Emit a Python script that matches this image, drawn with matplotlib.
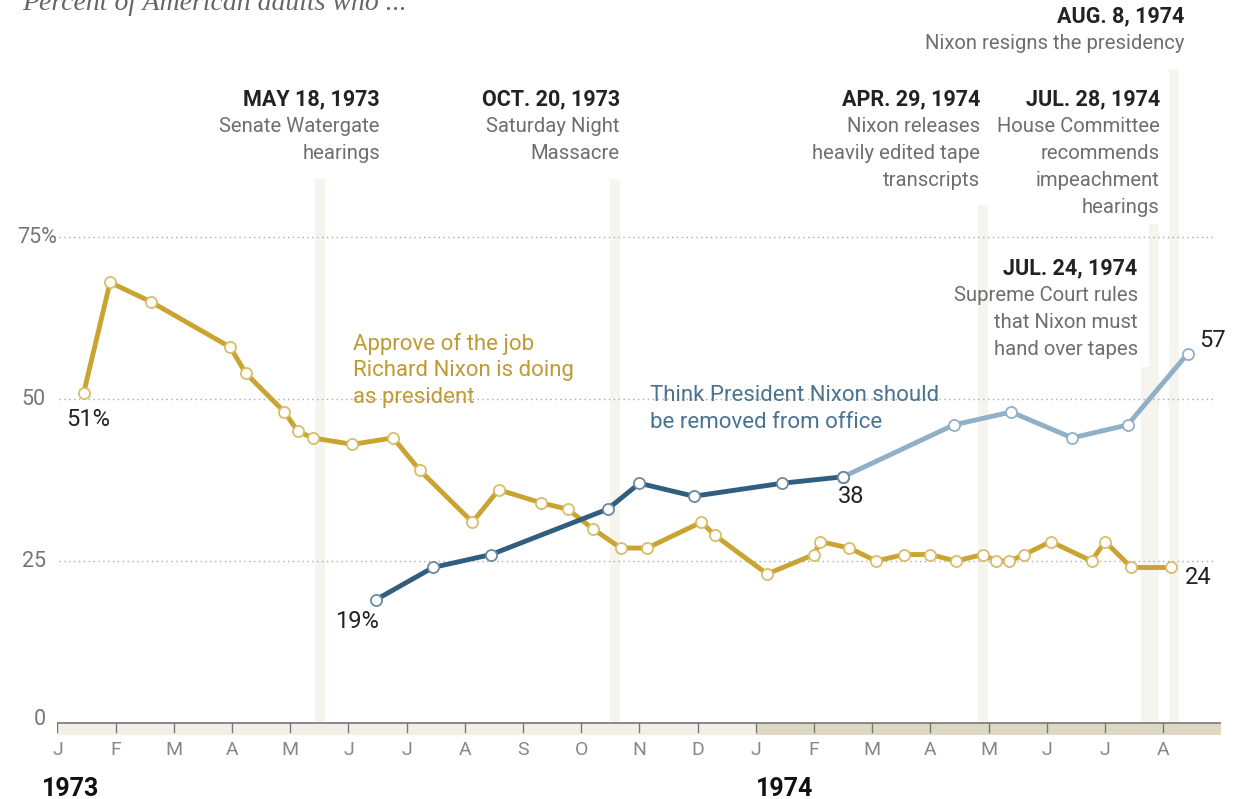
import calendar
import matplotlib
matplotlib.use("Agg")
import matplotlib.pyplot as plt

# approval of Nixon's job (Gallup), percent
approve_dates = ["1973-01-15", "1973-01-29", "1973-02-18", "1973-03-31", "1973-04-08",
                 "1973-04-28", "1973-05-05", "1973-05-13", "1973-06-03", "1973-06-24",
                 "1973-07-08", "1973-08-05", "1973-08-19", "1973-09-10", "1973-09-24",
                 "1973-10-07", "1973-10-22", "1973-11-05", "1973-12-03", "1973-12-10",
                 "1974-01-07", "1974-02-01", "1974-02-04", "1974-02-18", "1974-03-03",
                 "1974-03-18", "1974-04-01", "1974-04-14", "1974-04-28", "1974-05-05",
                 "1974-05-12", "1974-05-20", "1974-06-03", "1974-06-24", "1974-07-01",
                 "1974-07-15", "1974-08-05"]
approve_vals = [51, 68, 65, 58, 54, 48, 45, 44, 43, 44, 39, 31, 36, 34, 33, 30, 27, 27,
                31, 29, 23, 26, 28, 27, 25, 26, 26, 25, 26, 25, 25, 26, 28, 25, 28, 24, 24]

# think Nixon should be removed from office, percent
remove_dates = ["1973-06-15", "1973-07-15", "1973-08-15", "1973-10-15", "1973-11-01",
                "1973-11-29", "1974-01-15", "1974-02-15", "1974-04-13", "1974-05-13",
                "1974-06-14", "1974-07-13", "1974-08-14"]
remove_vals = [19, 24, 26, 33, 37, 35, 37, 38, 46, 48, 44, 46, 57]
remove_split = 7  # dark line up to this point, light after

month_labels = ["J", "F", "M", "A", "M", "J", "J", "A", "S", "O", "N", "D",
                "J", "F", "M", "A", "M", "J", "J", "A"]

events = [
    ("1973-05-18", "MAY 18, 1973", ["Senate Watergate", "hearings"], 84),
    ("1973-10-20", "OCT. 20, 1973", ["Saturday Night", "Massacre"], 84),
    ("1974-04-29", "APR. 29, 1974", ["Nixon releases", "heavily edited tape", "transcripts"], 80),
    ("1974-07-24", "JUL. 24, 1974", ["Supreme Court rules", "that Nixon must", "hand over tapes"], 55),
    ("1974-07-28", "JUL. 28, 1974", ["House Committee", "recommends", "impeachment", "hearings"], 77),
    ("1974-08-08", "AUG. 8, 1974", ["Nixon resigns the presidency"], 101),
]
# where each event's text block sits (right edge in months, top line value)
event_text_pos = [(5.54, 96.3), (9.66, 96.3), (15.85, 96.3), (18.56, 70.2), (18.94, 96.3), (19.37, 109.0)]


def month_pos(d):
    y, m, day = (int(p) for p in d.split("-"))
    return (y - 1973) * 12 + (m - 1) + (day - 1) / calendar.monthrange(y, m)[1]


ax_x = [month_pos(d) for d in approve_dates]
rx = [month_pos(d) for d in remove_dates]

GOLD = "#c9a430"
DARKBLUE = "#2f5e7f"
LIGHTBLUE = "#8fb0c7"
GRAY = "#6e6e6e"
FONT = "Roboto"

fig = plt.figure(figsize=(12.4, 7.99), dpi=100)
ax = fig.add_axes([0.04637, 0.0797, 0.9387, 0.9075])
ax.set_xlim(0, 20)
ax.set_ylim(-1.9, 110)
ax.axis("off")

# event bands
for (d, head, lines, top) in events:
    p = month_pos(d)
    ax.fill_between([p - 0.12, p + 0.05], 0, top, color="#f5f4ee", lw=0, zorder=0)

for (d, head, lines, top), (tx, ty) in zip(events, event_text_pos):
    ax.text(tx, ty, head, ha="right", va="center", fontsize=15.5, fontweight="bold",
            color="#222222", family=FONT)
    for i, ln in enumerate(lines):
        ax.text(tx, ty - 4.17 * (i + 1), ln, ha="right", va="center", fontsize=14.6,
                color=GRAY, family=FONT)

# gridlines
for v in [25, 50, 75]:
    ax.plot([0.02, 19.89], [v, v], color="#aaaaaa", lw=1, ls=(0, (1, 2.5)), zorder=1)
ax.text(-0.7, 75, "75%", ha="left", va="center", fontsize=15.5, color="#777777", family=FONT)
for v, lab in [(50, "50"), (25, "25"), (0, "0")]:
    ax.text(-0.2, v + (0.6 if v == 0 else 0), lab, ha="right", va="center", fontsize=15.5,
            color="#777777", family=FONT)

# baseline band and ticks
ax.fill_between([0, 12], -1.9, 0, color="#f1efe6", lw=0, zorder=1)
ax.fill_between([12, 20], -1.9, 0, color="#dcd8c4", lw=0, zorder=1)
ax.plot([0, 20], [0, 0], color="#777777", lw=1.2, zorder=2)
for i, lab in enumerate(month_labels):
    ax.plot([i, i], [0, -1.4], color="#777777", lw=1, zorder=2)
    ax.text(i, -4.2, lab, ha="center", va="center", fontsize=14, color="#888888",
            family=FONT, clip_on=False)
ax.text(-0.27, -10.2, "1973", ha="left", va="center", fontsize=18, fontweight="bold",
        color="#111111", family=FONT, clip_on=False)
ax.text(12.0, -10.2, "1974", ha="left", va="center", fontsize=18, fontweight="bold",
        color="#111111", family=FONT, clip_on=False)

# lines
mk = dict(marker="o", markersize=8, markerfacecolor="white", markeredgewidth=1.3)
ax.plot(ax_x, approve_vals, color=GOLD, lw=3.5, markeredgecolor="#d8bd6a", zorder=4, **mk)
ax.plot(rx[:remove_split + 1], remove_vals[:remove_split + 1], color=DARKBLUE, lw=3.5,
        markeredgecolor="#6b8aa2", zorder=4, **mk)
ax.plot(rx[remove_split:], remove_vals[remove_split:], color=LIGHTBLUE, lw=3.5,
        markeredgecolor="#93afc4", zorder=3, **mk)
ax.plot(rx[remove_split], remove_vals[remove_split], zorder=5, markeredgecolor="#6b8aa2",
        **mk)

# series labels
for i, ln in enumerate(["Approve of the job", "Richard Nixon is doing", "as president"]):
    ax.text(5.07, 58.5 - 4.17 * i, ln, ha="left", va="center", fontsize=16, color="#bf9b35",
            family=FONT)
for i, ln in enumerate(["Think President Nixon should", "be removed from office"]):
    ax.text(10.18, 50.6 - 4.3 * i, ln, ha="left", va="center", fontsize=16, color="#4a7392",
            family=FONT)

# value labels
vfs = 17
ax.text(0.52, 46.8, "51%", ha="center", va="center", fontsize=vfs, color="#222222", family=FONT)
ax.text(5.15, 15.6, "19%", ha="center", va="center", fontsize=vfs, color="#222222", family=FONT)
ax.text(13.63, 34.9, "38", ha="center", va="center", fontsize=vfs, color="#222222", family=FONT)
ax.text(19.37, 22.4, "24", ha="left", va="center", fontsize=vfs, color="#222222", family=FONT)
ax.text(19.61, 59.1, "57", ha="left", va="center", fontsize=vfs, color="#222222", family=FONT)

fig.text(22 / 1240, 1 - 10 / 799, "Percent of American adults who ...", ha="left",
         va="baseline", fontsize=20, style="italic", color="#666666", family="Liberation Serif")

fig.savefig("out.png", dpi=100, facecolor="white")
